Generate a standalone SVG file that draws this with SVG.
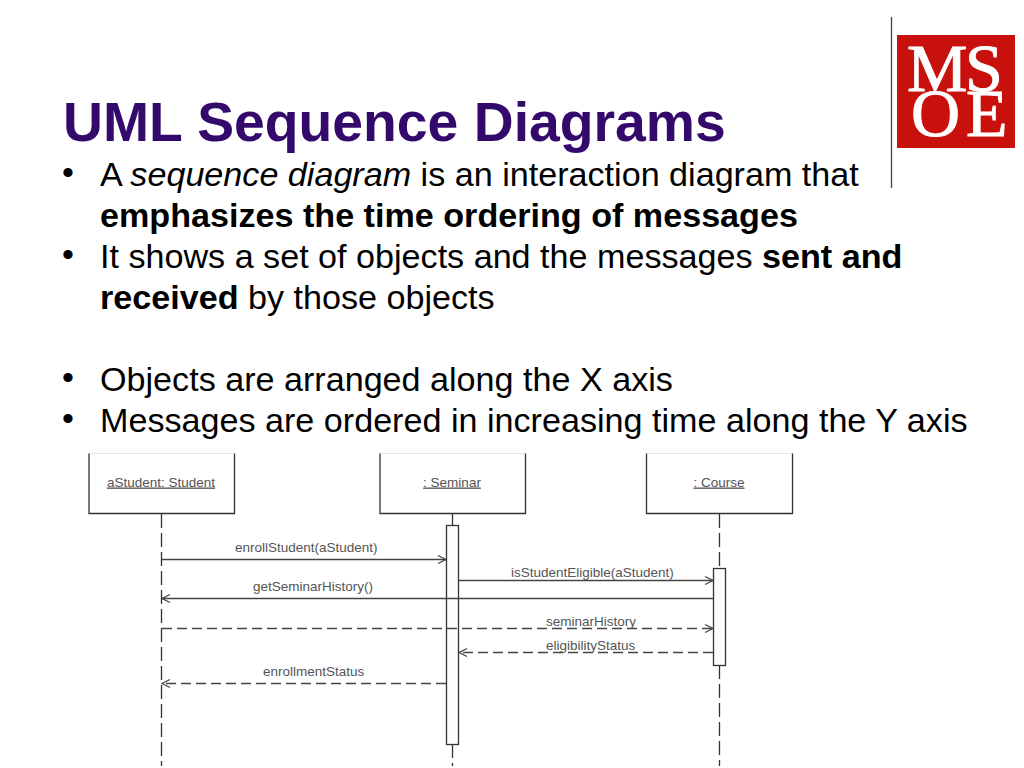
<svg xmlns="http://www.w3.org/2000/svg" width="1024" height="768" viewBox="0 0 1024 768">
<style>
text{font-family:"Liberation Sans",Arial,sans-serif}
.t{font-size:55.300px;font-weight:bold;fill:#330a6c}
.b{font-size:34.130px;fill:#000}
.dot{font-size:34px;fill:#000}
.d{font-size:13.500px;fill:#555}
.n{font-size:13.500px;fill:#555;text-decoration:underline;text-anchor:middle}
.m{font-family:"Liberation Serif",serif;fill:#fff;stroke:#fff;stroke-width:1;font-size:68px}
.box{fill:#fff;stroke:#333;stroke-width:1.300}
.top{stroke:#ccc;stroke-width:1;fill:none}
.act{fill:#fcfcfc;stroke:#333;stroke-width:1.300}
.life{stroke:#333;stroke-width:1.300;stroke-dasharray:14 5;fill:none}
.msg{stroke:#444;stroke-width:1.300;fill:none}
.dash{stroke:#444;stroke-width:1.300;fill:none;stroke-dasharray:10 5}
.head{stroke:#444;stroke-width:1.300;fill:none}
</style>
<rect width="1024" height="768" fill="#fff"/>
<g id="logo">
<line x1="891.500" y1="17" x2="891.500" y2="188" stroke="#444" stroke-width="1.300"/>
<rect x="897" y="35" width="118" height="113" fill="#c8100c"/>
<text class="m"><tspan x="907 965" y="91">MS</tspan><tspan x="911 966" y="136">OE</tspan></text>
</g>
<g id="title"><text class="t" x="63" y="141">UML Sequence Diagrams</text></g>
<g id="bullets">
<text class="dot" x="62" y="184">•</text>
<text class="b" x="100" y="186">A <tspan font-style="italic">sequence diagram</tspan> is an interaction diagram that</text>
<text class="b" x="100" y="227" font-weight="bold">emphasizes the time ordering of messages</text>
<text class="dot" x="62" y="266">•</text>
<text class="b" x="100" y="268">It shows a set of objects and the messages <tspan font-weight="bold">sent and</tspan></text>
<text class="b" x="100" y="309"><tspan font-weight="bold">received</tspan> by those objects</text>
<text class="dot" x="62" y="389">•</text>
<text class="b" x="100" y="391">Objects are arranged along the X axis</text>
<text class="dot" x="62" y="430">•</text>
<text class="b" x="100" y="432">Messages are ordered in increasing time along the Y axis</text>
</g>
<g id="seminar-activation"><rect class="act" x="446.500" y="525.500" width="12" height="219"/></g>
<g id="course-activation"><rect class="act" x="713.500" y="568.500" width="12" height="97"/></g>
<g id="connectors">
<line class="life" x1="161.500" y1="514" x2="161.500" y2="766"/>
<line class="life" x1="452.500" y1="514" x2="452.500" y2="525"/>
<line class="life" x1="452.500" y1="744" x2="452.500" y2="766"/>
<line class="life" x1="719.500" y1="514" x2="719.500" y2="568"/>
<line class="life" x1="719.500" y1="665" x2="719.500" y2="766"/>
<line class="msg" x1="162" y1="559.500" x2="446" y2="559.500"/>
<path class="head" d="M438 555.500L446 559.500L438 563.500"/>
<line class="msg" x1="459" y1="580.500" x2="713" y2="580.500"/>
<path class="head" d="M705 576.500L713 580.500L705 584.500"/>
<line class="msg" x1="713" y1="598.500" x2="162" y2="598.500"/>
<path class="head" d="M170 594.500L162 598.500L170 602.500"/>
<line class="dash" x1="162" y1="628.500" x2="713" y2="628.500"/>
<path class="head" d="M705 624.500L713 628.500L705 632.500"/>
<line class="dash" x1="713" y1="652.500" x2="459" y2="652.500"/>
<path class="head" d="M467 648.500L459 652.500L467 656.500"/>
<line class="dash" x1="446" y1="683.500" x2="162" y2="683.500"/>
<path class="head" d="M170 679.500L162 683.500L170 687.500"/>
</g>
<g id="student"><path class="top" d="M89 453.500H234.500"/><path class="box" d="M89 453.500V513.500H234.500V453.500"/><text class="n" x="161" y="486.500">aStudent: Student</text></g>
<g id="seminar"><path class="top" d="M380 453.500H525.500"/><path class="box" d="M380 453.500V513.500H525.500V453.500"/><text class="n" x="452" y="486.500">: Seminar</text></g>
<g id="course"><path class="top" d="M646.500 453.500H792.500"/><path class="box" d="M646.500 453.500V513.500H792.500V453.500"/><text class="n" x="719" y="486.500">: Course</text></g>
<g id="labels">
<text class="d" x="235" y="552">enrollStudent(aStudent)</text>
<text class="d" x="511" y="577">isStudentEligible(aStudent)</text>
<text class="d" x="253" y="591">getSeminarHistory()</text>
<text class="d" x="546" y="625.500">seminarHistory</text>
<text class="d" x="546" y="649.500">eligibilityStatus</text>
<text class="d" x="263" y="676">enrollmentStatus</text>
</g>
</svg>
